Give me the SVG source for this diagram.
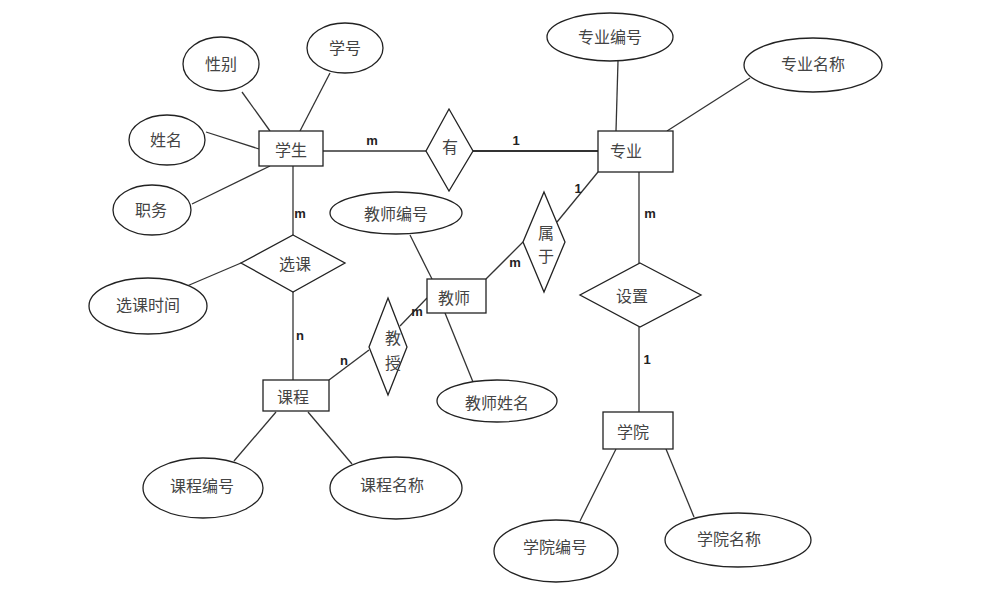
<svg xmlns="http://www.w3.org/2000/svg" width="1005" height="592" viewBox="0 0 1005 592">
<style>
.s{fill:#fff;stroke:#222;stroke-width:1.3}
.t{font-family:"Noto Sans CJK SC","Noto Sans",sans-serif;font-size:16px;fill:#444;text-anchor:middle;dominant-baseline:central}
.c line{stroke:#333;stroke-width:1.3}
.l{font-family:"Liberation Sans",Arial,sans-serif;font-size:13px;font-weight:bold;fill:#222;text-anchor:middle;dominant-baseline:central}
</style>
<rect width="1005" height="592" fill="#fff"/>
<g class="c" id="connectors">
<line x1="242" y1="92" x2="270" y2="131"/>
<line x1="330" y1="73" x2="300" y2="131"/>
<line x1="206" y1="132" x2="259" y2="149"/>
<line x1="192" y1="204" x2="270" y2="166"/>
<line x1="323" y1="151" x2="426" y2="151"/>
<line x1="473" y1="151" x2="598" y2="151" style="stroke-width:2.2"/>
<line x1="618" y1="61" x2="616" y2="131"/>
<line x1="750" y1="78" x2="667" y2="131"/>
<line x1="598" y1="172" x2="557" y2="222"/>
<line x1="486" y1="279" x2="523" y2="242"/>
<line x1="639" y1="172" x2="639" y2="263"/>
<line x1="639" y1="327" x2="639" y2="412"/>
<line x1="616" y1="449" x2="580" y2="521"/>
<line x1="666" y1="449" x2="694" y2="517"/>
<line x1="293" y1="166" x2="293" y2="235"/>
<line x1="293" y1="292" x2="293" y2="380"/>
<line x1="187" y1="286" x2="241" y2="263"/>
<line x1="329" y1="380" x2="369" y2="350"/>
<line x1="400" y1="326" x2="427" y2="298"/>
<line x1="410" y1="235" x2="432" y2="279"/>
<line x1="445" y1="313" x2="473" y2="382"/>
<line x1="276" y1="412" x2="234" y2="461"/>
<line x1="308" y1="412" x2="352" y2="464"/>
<text class="l" x="372" y="140">m</text>
<text class="l" x="516" y="140">1</text>
<text class="l" x="300" y="213">m</text>
<text class="l" x="650" y="213">m</text>
<text class="l" x="578" y="188">1</text>
<text class="l" x="515" y="262">m</text>
<text class="l" x="300" y="335">n</text>
<text class="l" x="344" y="360">n</text>
<text class="l" x="417" y="311">m</text>
<text class="l" x="647" y="359">1</text>
</g>
<g id="xuesheng"><rect class="s" x="259" y="131" width="64" height="35"/><text class="t" x="291" y="149">学生</text></g>
<g id="xingbie"><ellipse class="s" cx="221" cy="64" rx="38" ry="27"/><text class="t" x="221" y="63">性别</text></g>
<g id="xuehao"><ellipse class="s" cx="345" cy="48" rx="38" ry="25"/><text class="t" x="345" y="47">学号</text></g>
<g id="xingming"><ellipse class="s" cx="167" cy="140" rx="38" ry="25"/><text class="t" x="166" y="139">姓名</text></g>
<g id="zhiwu"><ellipse class="s" cx="152" cy="210" rx="39" ry="25"/><text class="t" x="151" y="209">职务</text></g>
<g id="you"><polygon class="s" points="449,109 473,151 449,191 426,151"/><text class="t" x="450" y="146">有</text></g>
<g id="zhuanye"><rect class="s" x="598" y="131" width="75" height="41"/><text class="t" x="626" y="150">专业</text></g>
<g id="zhuanyebianhao"><ellipse class="s" cx="610" cy="37" rx="63" ry="24"/><text class="t" x="610" y="36">专业编号</text></g>
<g id="zhuanyemingcheng"><ellipse class="s" cx="813" cy="65" rx="69" ry="27"/><text class="t" x="813" y="63">专业名称</text></g>
<g id="xuanke"><polygon class="s" points="293,235 345,263 293,292 241,263"/><text class="t" x="295" y="263">选课</text></g>
<g id="xuankeshijian"><ellipse class="s" cx="148" cy="306" rx="59" ry="28"/><text class="t" x="148" y="304">选课时间</text></g>
<g id="kecheng"><rect class="s" x="263" y="380" width="66" height="31"/><text class="t" x="293" y="396">课程</text></g>
<g id="kechengbianhao"><ellipse class="s" cx="203" cy="488" rx="60" ry="30"/><text class="t" x="202" y="485">课程编号</text></g>
<g id="kechengmingcheng"><ellipse class="s" cx="396" cy="488" rx="66" ry="31"/><text class="t" x="392" y="484">课程名称</text></g>
<g id="jiaoshou"><polygon class="s" points="388,298 407,347 388,395 369,347"/><text class="t" x="393" y="337">教</text><text class="t" x="393" y="362">授</text></g>
<g id="jiaoshi"><rect class="s" x="427" y="279" width="59" height="34"/><text class="t" x="454" y="297">教师</text></g>
<g id="jiaoshibianhao"><ellipse class="s" cx="396" cy="213" rx="66" ry="21"/><text class="t" x="396" y="213">教师编号</text></g>
<g id="jiaoshixingming"><ellipse class="s" cx="497" cy="401" rx="60" ry="21"/><text class="t" x="497" y="402">教师姓名</text></g>
<g id="shuyu"><polygon class="s" points="544,192 565,242 544,292 523,242"/><text class="t" x="546" y="232">属</text><text class="t" x="546" y="255">于</text></g>
<g id="shezhi"><polygon class="s" points="640,263 701,295 640,327 580,295"/><text class="t" x="632" y="295">设置</text></g>
<g id="xueyuan"><rect class="s" x="603" y="412" width="70" height="37"/><text class="t" x="633" y="431">学院</text></g>
<g id="xueyuanbianhao"><ellipse class="s" cx="556" cy="551" rx="62" ry="31"/><text class="t" x="555" y="546">学院编号</text></g>
<g id="xueyuanmingcheng"><ellipse class="s" cx="738" cy="540" rx="73" ry="27"/><text class="t" x="729" y="538">学院名称</text></g>
</svg>
